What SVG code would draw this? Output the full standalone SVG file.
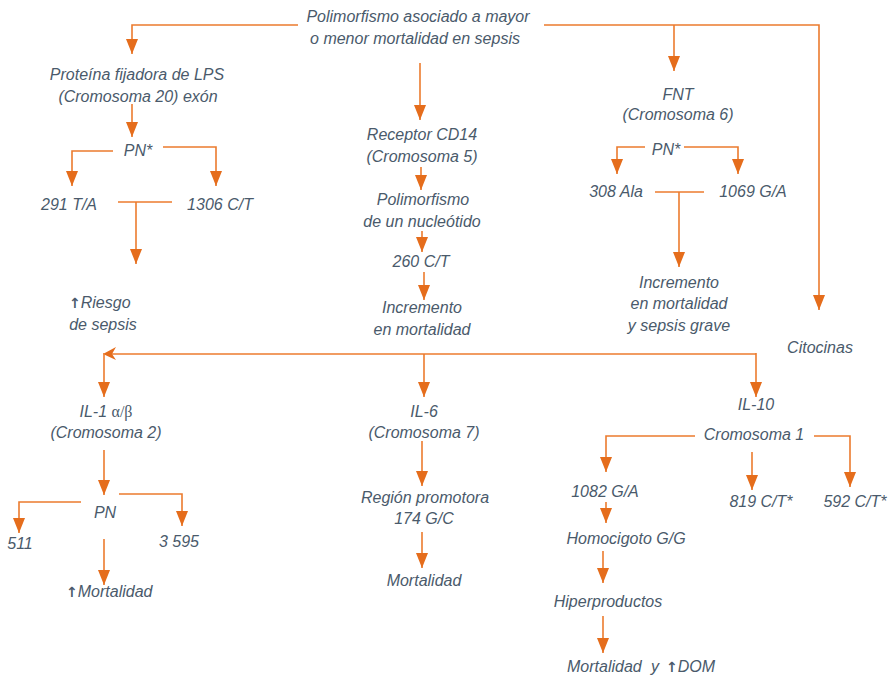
<svg xmlns="http://www.w3.org/2000/svg" width="890" height="677" viewBox="0 0 890 677">
  <style>
    text { font-family: "Liberation Sans", Arial, sans-serif; font-size: 16px; font-style: italic; fill: #4a5a6b; text-anchor: middle; }
    .greek { font-family: "Liberation Serif", "Times New Roman", serif; font-style: normal; }
    .up { font-family: "DejaVu Sans", sans-serif; font-style: normal; font-weight: bold; font-size: 14px; }
    .start { text-anchor: start; }
    .ln { fill: none; stroke: #ec7b2e; stroke-width: 1.6; }
    .arr { marker-end: url(#head); }
  </style>
  <defs>
    <marker id="head" viewBox="0 0 15 12" refX="15" refY="6" markerWidth="15" markerHeight="12" markerUnits="userSpaceOnUse" orient="auto">
      <path d="M0,0 L15,6 L0,12 Z" fill="#e56d1c"/>
    </marker>
  </defs>

  <rect width="890" height="677" fill="#ffffff"/>

  <!-- connectors -->
  <g id="connectors">
    <!-- root fan-out -->
    <path class="ln arr" d="M298,25 H132 V54"/>
    <path class="ln arr" d="M544,25 H819 V310"/>
    <path class="ln arr" d="M674,25 V71"/>
    <path class="ln arr" d="M420,63 V120"/>

    <!-- LPS branch -->
    <path class="ln arr" d="M132,104 V137"/>
    <path class="ln arr" d="M113,151 H72 V186"/>
    <path class="ln arr" d="M163,147 H216 V186"/>
    <path class="ln" d="M118,202 H172"/>
    <path class="ln arr" d="M136,202 V264"/>

    <!-- CD14 branch -->
    <path class="ln arr" d="M421,167 V190"/>
    <path class="ln arr" d="M422,231 V252"/>
    <path class="ln arr" d="M424,272 V300"/>

    <!-- FNT branch -->
    <path class="ln arr" d="M645,147 H617 V174"/>
    <path class="ln arr" d="M684,147 H738 V174"/>
    <path class="ln" d="M655,192 H704"/>
    <path class="ln arr" d="M679,192 V267"/>

    <!-- cytokine bus -->
    <path class="ln" d="M756,354 H112"/>
    <path d="M103,354 L116,347 L112,354 L116,360 Z" fill="#e56d1c"/>
    <path class="ln arr" d="M104,353 V397"/>
    <path class="ln arr" d="M424,354 V397"/>
    <path class="ln arr" d="M756,353 V397"/>

    <!-- IL-1 branch -->
    <path class="ln arr" d="M104,450 V495"/>
    <path class="ln arr" d="M81,502 H19 V533"/>
    <path class="ln arr" d="M119,494 H182 V526"/>
    <path class="ln arr" d="M104,539 V585"/>

    <!-- IL-6 branch -->
    <path class="ln arr" d="M422,441 V486"/>
    <path class="ln arr" d="M422,532 V568"/>

    <!-- IL-10 branch -->
    <path class="ln arr" d="M695,436 H606 V472"/>
    <path class="ln arr" d="M814,436 H850 V487"/>
    <path class="ln arr" d="M752,452 V490"/>
    <path class="ln arr" d="M606,502 V523"/>
    <path class="ln arr" d="M603,551 V583"/>
    <path class="ln arr" d="M603,616 V653"/>
  </g>

  <!-- nodes -->
  <g id="root">
    <text x="418" y="22">Polimorfismo asociado a mayor</text>
    <text x="415" y="44">o menor mortalidad en sepsis</text>
  </g>

  <g id="lps">
    <text x="137" y="80">Proteína fijadora de LPS</text>
    <text x="138" y="102">(Cromosoma 20) exón</text>
  </g>
  <g id="lps-pn"><text x="138" y="156">PN*</text></g>
  <g id="lps-291"><text x="69" y="210">291 T/A</text></g>
  <g id="lps-1306"><text x="220" y="210">1306 C/T</text></g>
  <g id="lps-riesgo">
    <text class="start" x="69" y="308"><tspan class="up">↑</tspan>Riesgo</text>
    <text x="103" y="330">de sepsis</text>
  </g>

  <g id="cd14">
    <text x="422" y="140">Receptor CD14</text>
    <text x="422" y="162">(Cromosoma 5)</text>
  </g>
  <g id="cd14-snp">
    <text x="423" y="205">Polimorfismo</text>
    <text x="422" y="227">de un nucleótido</text>
  </g>
  <g id="cd14-260"><text x="421" y="267">260 C/T</text></g>
  <g id="cd14-inc">
    <text x="422" y="313">Incremento</text>
    <text x="422" y="335">en mortalidad</text>
  </g>

  <g id="fnt">
    <text x="678" y="100">FNT</text>
    <text x="678" y="120">(Cromosoma 6)</text>
  </g>
  <g id="fnt-pn"><text x="666" y="155">PN*</text></g>
  <g id="fnt-308"><text x="616" y="197">308 Ala</text></g>
  <g id="fnt-1069"><text x="753" y="197">1069 G/A</text></g>
  <g id="fnt-inc">
    <text x="679" y="288">Incremento</text>
    <text x="679" y="309">en mortalidad</text>
    <text x="679" y="331">y sepsis grave</text>
  </g>

  <g id="citocinas"><text x="820" y="353">Citocinas</text></g>

  <g id="il1">
    <text x="106" y="417">IL-1 <tspan class="greek">α/β</tspan></text>
    <text x="106" y="438">(Cromosoma 2)</text>
  </g>
  <g id="il1-pn"><text x="105" y="518">PN</text></g>
  <g id="il1-511"><text x="20" y="549">511</text></g>
  <g id="il1-3595"><text x="179" y="547">3 595</text></g>
  <g id="il1-mort"><text class="start" x="66" y="597"><tspan class="up">↑</tspan>Mortalidad</text></g>

  <g id="il6">
    <text x="424" y="417">IL-6</text>
    <text x="424" y="438">(Cromosoma 7)</text>
  </g>
  <g id="il6-prom">
    <text x="425" y="503">Región promotora</text>
    <text x="424" y="524">174 G/C</text>
  </g>
  <g id="il6-mort"><text x="424" y="586">Mortalidad</text></g>

  <g id="il10"><text x="756" y="410">IL-10</text></g>
  <g id="il10-crom"><text x="754" y="440">Cromosoma 1</text></g>
  <g id="il10-1082"><text x="605" y="497">1082 G/A</text></g>
  <g id="il10-819"><text x="761" y="507">819 C/T*</text></g>
  <g id="il10-592"><text x="855" y="507">592 C/T*</text></g>
  <g id="il10-homo"><text x="626" y="544">Homocigoto G/G</text></g>
  <g id="il10-hiper"><text x="608" y="607">Hiperproductos</text></g>
  <g id="il10-mort"><text class="start" x="567" y="672">Mortalidad<tspan x="651">y</tspan><tspan class="up" x="666">↑</tspan>DOM</text></g>
</svg>
